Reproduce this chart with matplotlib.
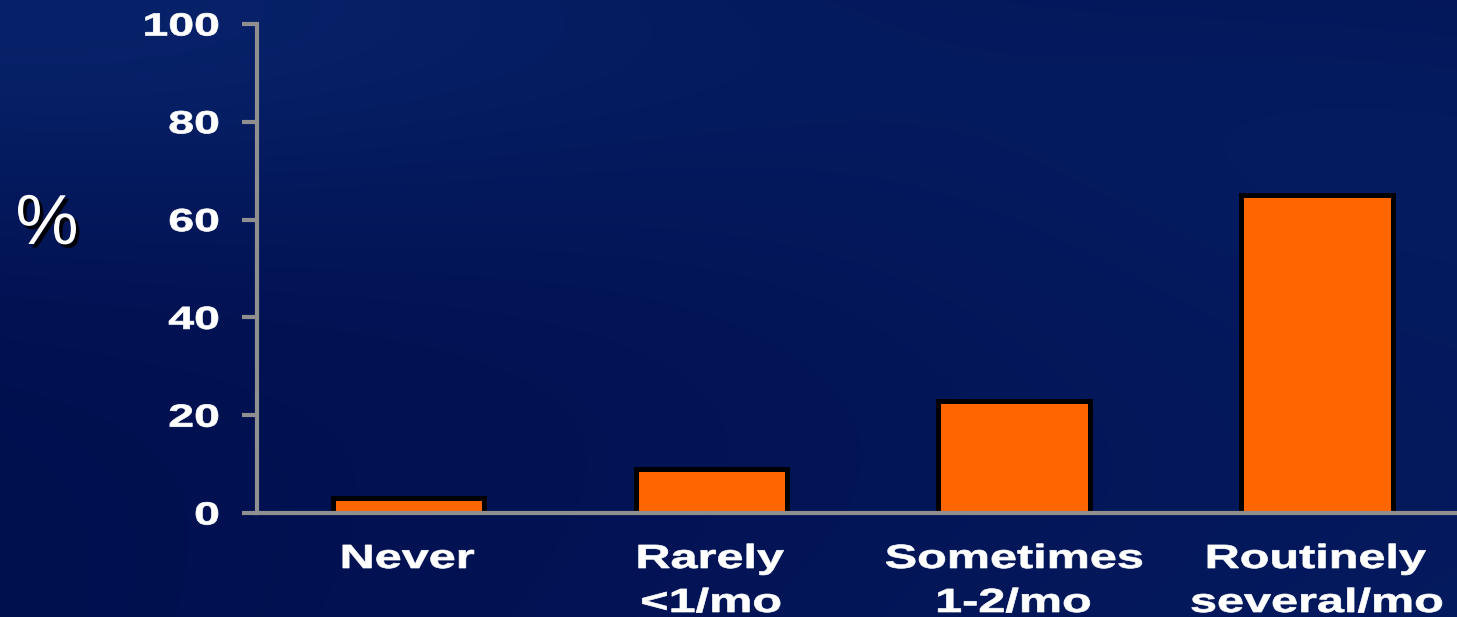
import numpy as np
import matplotlib.pyplot as plt
import matplotlib.patheffects as pe
from matplotlib.textpath import TextPath
from matplotlib.patches import PathPatch
from matplotlib.font_manager import FontProperties
from matplotlib.transforms import Affine2D

# survey answers, share of respondents (%)
categories = ["Never", "Rarely", "Sometimes", "Routinely"]
frequencies = ["", "<1/mo", "1-2/mo", "several/mo"]
percent = [3, 9, 23, 65]
yticks = [0, 20, 40, 60, 80, 100]

plt.rcParams['font.family'] = ['Liberation Sans', 'DejaVu Sans']

W, H = 1457, 617
fig = plt.figure(figsize=(W / 100, H / 100), dpi=100)

# navy slide background with a soft gradient
bg = fig.add_axes([0, 0, 1, 1], zorder=-10)
yy, xx = np.mgrid[0:1:240j, 0:1:480j]
t = 0.75 * np.exp(-((xx * 0.8) ** 2 + (yy * 1.3) ** 2) / 0.25)
t += 0.45 * xx * yy + 0.35 * np.exp(-(((xx - 1) ** 2) + (yy - 0.2) ** 2) / 0.2)
t = np.clip(t, 0, 1)
dark = np.array([0, 15, 78]) / 255
light = np.array([10, 40, 114]) / 255
img = dark + t[..., None] * (light - dark)
bg.imshow(img, aspect='auto', extent=[0, 1, 0, 1], interpolation='bicubic')
bg.set_axis_off()

ax = fig.add_axes([257 / W, 1 - 513 / H, 1 - 257 / W, (513 - 24) / H])
ax.patch.set_alpha(0)

x = np.arange(len(categories))
ax.bar(x, percent, width=0.5, color='#ff6600', edgecolor='black',
       linewidth=3.6, zorder=2)
ax.set_xlim(-0.5, 3.463)
ax.set_ylim(0, 100)

axis_gray = '#8f8f8f'
for side in ['top', 'right']:
    ax.spines[side].set_visible(False)
for side in ['left', 'bottom']:
    ax.spines[side].set_color(axis_gray)
    ax.spines[side].set_linewidth(3)
    ax.spines[side].set_zorder(3)
ax.set_xticks([])
ax.set_yticks(yticks)
ax.tick_params(axis='y', length=11, width=3, color=axis_gray, labelleft=False)

# labels use a horizontally stretched bold face
bold = FontProperties(family='Liberation Sans', weight='bold')
SX = 1.45


def wide_label(px, py, s, size, ha='center'):
    # px, py in pixels; py is the baseline
    path = TextPath((0, 0), s, size=size, prop=bold)
    ext = path.get_extents()
    if ha == 'center':
        x0 = px - SX * (ext.x0 + ext.x1) / 2
    else:
        x0 = px - SX * ext.x1
    tr = Affine2D().scale(SX, 1).translate(x0, py)
    fig.add_artist(PathPatch(path, transform=tr, fc='white', ec='white', lw=0.5))


# y tick labels
for v in yticks:
    px, py = ax.transData.transform((-0.5, v))
    wide_label(px - 39, py - 11.5, str(v), 32, ha='right')

# category labels under the bars
for xi, cat, freq in zip(x, categories, frequencies):
    px, py = ax.transData.transform((xi, 0))
    wide_label(px, py - 55, cat, 33.5)
    if freq:
        wide_label(px, py - 99, freq, 33.5)

fig.text(47 / W, 1 - 226 / H, '%', color='white', fontsize=51,
         ha='center', va='center',
         path_effects=[pe.SimplePatchShadow(offset=(2.5, -2.5), shadow_rgbFace='black', alpha=0.9),
                       pe.Normal()])

fig.savefig('out.png', dpi=100)
